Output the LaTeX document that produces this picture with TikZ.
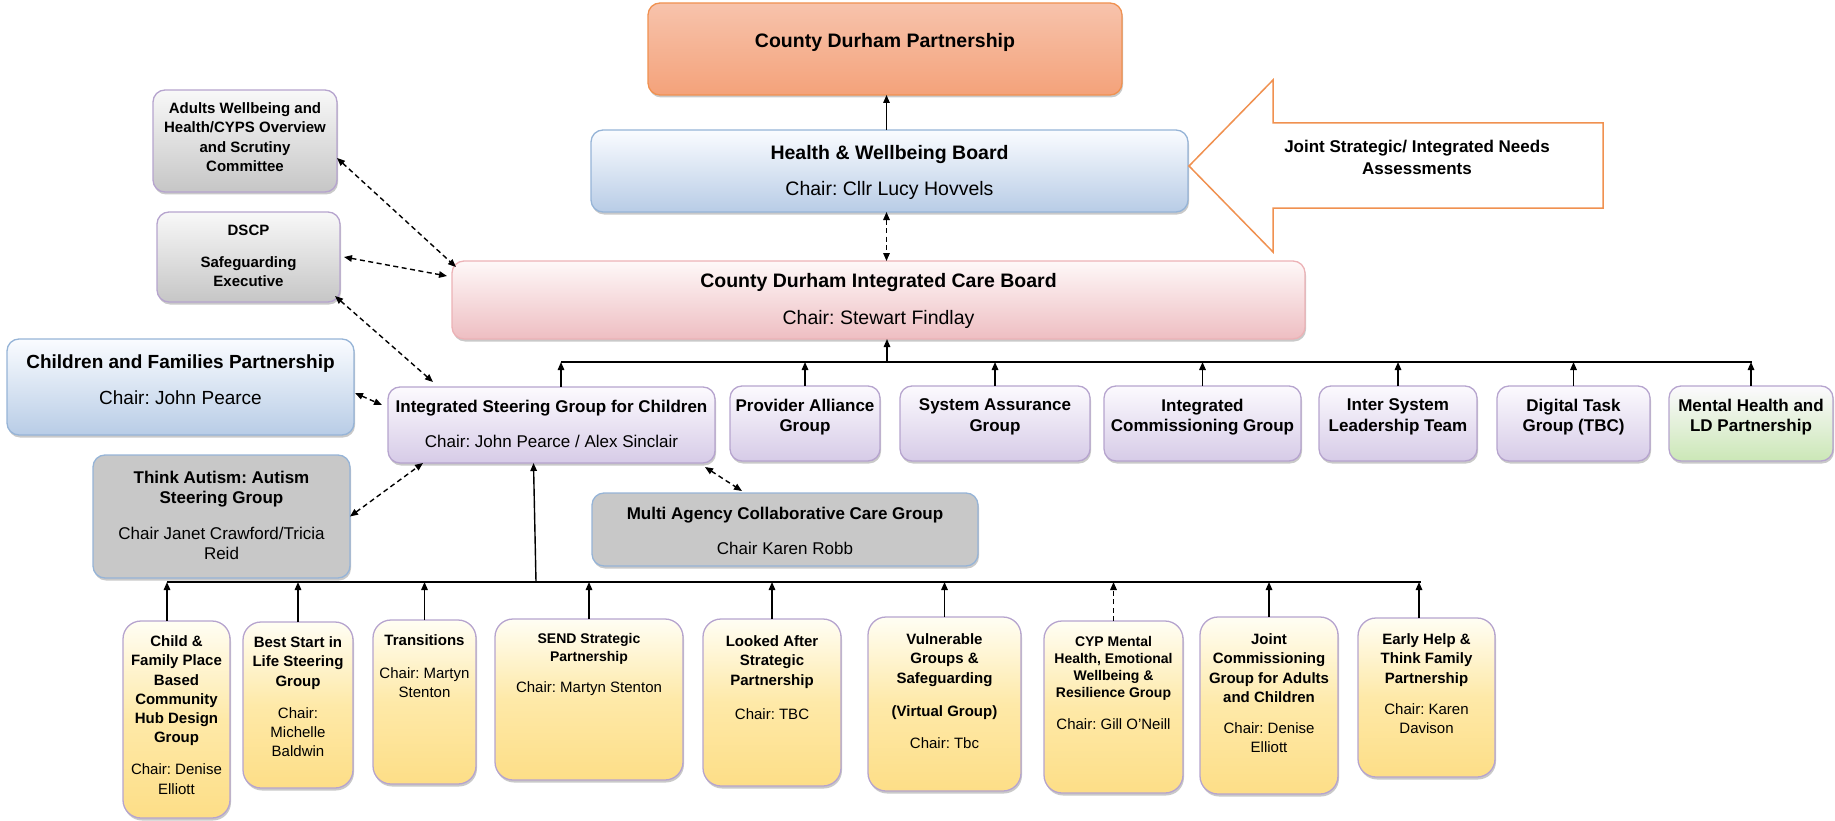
\documentclass[tikz,border=0pt]{standalone}
\usepackage{fontspec}
\setmainfont{Liberation Sans}
\usetikzlibrary{arrows.meta, shadows}
\frenchspacing

\definecolor{cdptop}{RGB}{247,195,172}
\definecolor{cdpbot}{RGB}{244,162,122}
\definecolor{cdpline}{RGB}{240,145,80}
\definecolor{bluetop}{RGB}{250,252,255}
\definecolor{bluebot}{RGB}{184,204,230}
\definecolor{blueline}{RGB}{150,180,215}
\definecolor{pinktop}{RGB}{254,248,248}
\definecolor{pinkbot}{RGB}{238,190,194}
\definecolor{pinkline}{RGB}{236,178,182}
\definecolor{lilactop}{RGB}{252,250,254}
\definecolor{lilacbot}{RGB}{214,203,231}
\definecolor{lilacline}{RGB}{182,164,206}
\definecolor{greenbot}{RGB}{203,231,182}
\definecolor{greytop}{RGB}{248,248,248}
\definecolor{greybot}{RGB}{198,198,198}
\definecolor{greyfill}{RGB}{200,200,200}
\definecolor{yellowtop}{RGB}{255,254,244}
\definecolor{yellowmid}{RGB}{254,233,168}
\definecolor{yellowbot}{RGB}{253,222,135}

% width, height, top gap, text
\newcommand{\boxtext}[4]{\parbox[t][#2pt][t]{#1pt}{\centering\vspace*{#3pt}#4\par}}

\tikzset{
  box/.style={draw, rounded corners=12pt, line width=1.3pt, inner sep=0pt, outer sep=0pt, anchor=north west,
    drop shadow={shadow xshift=1pt, shadow yshift=-2.5pt, opacity=.3, fill=black!70}},
  orangebox/.style={box, draw=cdpline, top color=cdptop, bottom color=cdpbot},
  bluebox/.style={box, draw=blueline, top color=bluetop, bottom color=bluebot},
  pinkbox/.style={box, draw=pinkline, top color=pinktop, bottom color=pinkbot},
  lilacbox/.style={box, draw=lilacline, top color=lilactop, bottom color=lilacbot},
  silverbox/.style={box, draw=lilacline, top color=greytop, bottom color=greybot},
  greybox/.style={box, draw=blueline, fill=greyfill},
  yellowbox/.style={box, rounded corners=18pt, draw=lilacline, top color=yellowtop, bottom color=yellowbot, middle color=yellowmid},
  link/.style={line width=1.4pt, -{Triangle[length=8pt,width=6.5pt]}},
  halfdash/.style={dash pattern=on 5pt off 3.5pt},
  dlink/.style={line width=1.4pt, halfdash, {Triangle[length=8pt,width=6.5pt]}-{Triangle[length=8pt,width=6.5pt]}},
}

\begin{document}
\begin{tikzpicture}[x=1pt, y=-1pt]
\useasboundingbox (0,0) rectangle (1835,821);

% boards
\node[orangebox, font=\fontsize{19.5}{23}\selectfont\bfseries] (cdp) at (648,3) {\boxtext{474}{92}{30}{County Durham Partnership}};
\node[bluebox, font=\fontsize{19.5}{23}\selectfont] (hwb) at (591,130) {\boxtext{597}{82}{15}{\textbf{Health \& Wellbeing Board}\\[13pt]Chair: Cllr Lucy Hovvels}};
\node[pinkbox, font=\fontsize{19.5}{23}\selectfont] (icb) at (452,261) {\boxtext{853}{78}{12}{\textbf{County Durham Integrated Care Board}\\[14pt]Chair: Stewart Findlay}};

\draw[draw=cdpline, line width=1.5pt, fill=white] (1603,123) -- (1273,123) -- (1273,80) -- (1189,166) -- (1273,252) -- (1273,208) -- (1603,208) -- cycle;
\node[font=\fontsize{17}{22}\selectfont\bfseries, align=center] (jsna) at (1417,157) {Joint Strategic/ Integrated Needs\\Assessments};

% left side
\node[silverbox, font=\fontsize{15}{19.5}\selectfont\bfseries] (osc) at (153,90) {\boxtext{184}{102}{12.6}{Adults Wellbeing and\\Health/CYPS Overview\\and Scrutiny\\Committee}};
\node[silverbox, font=\fontsize{15}{19.5}\selectfont\bfseries] (dscp) at (157,212) {\boxtext{183}{90}{12.6}{DSCP\\[12.5pt]Safeguarding\\Executive}};
\node[bluebox, font=\fontsize{19}{23}\selectfont] (cfp) at (7,339) {\boxtext{347}{96}{16}{\textbf{Children and Families Partnership}\\[13pt]Chair: John Pearce}};
\node[lilacbox, font=\fontsize{17}{20}\selectfont] (isg) at (388,387) {\boxtext{327}{76}{13}{\textbf{Integrated Steering Group for Children}\\[15pt]Chair: John Pearce / Alex Sinclair}};
\node[greybox, font=\fontsize{17}{20}\selectfont] (tas) at (93,455) {\boxtext{257}{123}{16}{\textbf{Think Autism: Autism\\Steering Group}\\[16pt]Chair Janet Crawford/Tricia\\Reid}};
\node[greybox, font=\fontsize{17}{20}\selectfont] (macc) at (592,493) {\boxtext{386}{73}{14}{\textbf{Multi Agency Collaborative Care Group}\\[15pt]Chair Karen Robb}};

% top row
\coordinate (tbusl) at (561,362);
\coordinate (tbusr) at (1752,362);
\coordinate (tbusm) at (887,362);
\draw[line width=1.4pt] (tbusl) -- (tbusr);
\draw[link] (tbusm) -- (tbusm |- icb.south);
\coordinate (isgtop) at ([xshift=9.5pt]isg.north);
\draw[link] (isgtop) -- (isgtop |- tbusl);

\foreach \nm/\cb/\bx/\bw/\bt in {prov/lilacbot/730/150/{Provider Alliance\\Group},
  sag/lilacbot/900/190/{System Assurance\\Group},
  icg/lilacbot/1104/197/{Integrated\\Commissioning Group},
  islt/lilacbot/1319/158/{Inter System\\Leadership Team},
  dtg/lilacbot/1497/153/{Digital Task\\Group (TBC)},
  mhld/greenbot/1669/164/{Mental Health and\\LD Partnership}}
{
  \node[lilacbox, bottom color=\cb, font=\fontsize{17}{20.5}\selectfont\bfseries] (\nm) at (\bx,386) {\boxtext{\bw}{75}{13}{\bt}};
  \draw[link] (\nm.north) -- (\nm.north |- tbusl);
}

% bottom row
\coordinate (bbusl) at (167,582);
\coordinate (bbusr) at (1421,582);
\coordinate (isgfoot) at (536,582);
\draw[line width=1.4pt] (bbusl) -- (bbusr);
\draw[link] (isgfoot) -- ([xshift=-18pt]isg.south);

\foreach \nm/\bx/\by/\bw/\bh/\bo/\dx/\ls/\bt in {
  cfh/123/621/107/197/14.6/-9.5/solid/{\textbf{Child \&\\Family Place\\Based\\Community\\Hub Design\\Group}\\[12.7pt]Chair: Denise\\Elliott},
  bsl/243/622/110/166/14.6/0/solid/{\textbf{Best Start in\\Life Steering\\Group}\\[12.7pt]Chair:\\Michelle\\Baldwin},
  trn/373/620/103/164/14.6/0/solid/{\textbf{Transitions}\\[13.7pt]Chair: Martyn\\Stenton},
  send/495/619/188/161/14.6/0/solid/{{\fontsize{14}{18}\selectfont\bfseries SEND Strategic\\Partnership\endgraf}\vspace{11.7pt}Chair: Martyn Stenton},
  lasp/703/619/138/167/16.6/0/solid/{\textbf{Looked After\\Strategic\\Partnership}\\[14.7pt]Chair: TBC},
  vgs/868/617/153/174/16.6/0/solid/{\textbf{Vulnerable\\Groups \&\\Safeguarding}\\[13.7pt]\textbf{(Virtual Group)}\\[12.7pt]Chair: Tbc},
  cyp/1044/621/139/172/15/0/halfdash/{{\fontsize{14}{17}\selectfont\bfseries CYP Mental\\Health, Emotional\\Wellbeing \&\\Resilience Group\endgraf}\vspace{12.7pt}Chair: Gill O'Neill},
  jcg/1200/617/138/177/16.6/0/solid/{\textbf{Joint\\Commissioning\\Group for Adults\\and Children}\\[11.7pt]Chair: Denise\\Elliott},
  ehp/1358/618/137/159/15.6/-7.5/solid/{\textbf{Early Help \&\\Think Family\\Partnership}\\[11.7pt]Chair: Karen\\Davison}}
{
  \node[yellowbox, font=\fontsize{15}{19.3}\selectfont] (\nm) at (\bx,\by) {\boxtext{\bw}{\bh}{\bo}{\bt}};
  \coordinate (\nm-top) at ([xshift=\dx pt]\nm.north);
  \draw[link, \ls] (\nm-top) -- (\nm-top |- bbusl);
}

% board links
\draw[link] ([xshift=-3pt]hwb.north) -- ([xshift=1.5pt]cdp.south);
\draw[dlink] ([xshift=-3pt]hwb.south) -- ([xshift=8pt]icb.north);
\draw[dlink] ([yshift=-17pt]osc.east) -- ([shift={(4pt,-6pt)}]icb.north west);
\draw[dlink] ([xshift=4pt]dscp.east) -- ([shift={(-5pt,-15pt)}]icb.north west);
\draw[dlink] ([shift={(-5pt,6pt)}]dscp.south east) -- ([shift={(45pt,5pt)}]isg.north west);
\draw[dlink] ([shift={(1pt,-6pt)}]cfp.east) -- ([shift={(-6pt,20pt)}]isg.west);
\draw[dlink] (tas.east) -- ([xshift=35pt]isg.south west);
\draw[dlink] ([shift={(-10pt,-4pt)}]isg.south east) -- ([shift={(150pt,2pt)}]macc.north west);
\end{tikzpicture}
\end{document}
